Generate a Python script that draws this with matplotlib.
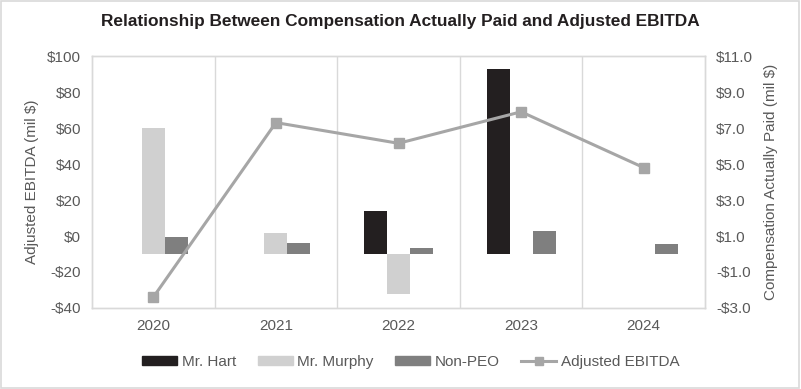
import matplotlib
matplotlib.use("Agg")
import matplotlib.pyplot as plt
import numpy as np
from matplotlib.patches import Rectangle, Patch
from matplotlib.lines import Line2D
from matplotlib.ticker import FuncFormatter

plt.rcParams['font.family'] = ['Liberation Sans', 'DejaVu Sans']

years = ['2020', '2021', '2022', '2023', '2024']
hart = [np.nan, np.nan, 2.4, 10.3, np.nan]
murphy = [7.0, 1.15, -2.2, np.nan, np.nan]
non_peo = [0.95, 0.6, 0.35, 1.3, 0.55]
ebitda = [-34, 63, 51.5, 69, 38]

c_hart = '#231f20'
c_murphy = '#d0d0d0'
c_nonpeo = '#7f7f7f'
c_line = '#a6a6a6'
txt = '#595959'

fig = plt.figure(figsize=(8.01, 3.89), dpi=100)
fig.patches.append(Rectangle((0.001, 0.002), 0.997, 0.995, transform=fig.transFigure,
                             fill=False, edgecolor='#d9d9d9', linewidth=1.2))
ax = fig.add_axes([92/801, 1-308/389, (705-92)/801, (308-56)/389])
ax2 = ax.twinx()

x = np.arange(len(years))
w = 0.188
ax.bar(x - w, hart, w, color=c_hart, zorder=2)
ax.bar(x, murphy, w, color=c_murphy, zorder=2)
ax.bar(x + w, non_peo, w, color=c_nonpeo, zorder=2)
ax.set_ylim(-3, 11)
ax.set_yticks(np.arange(-3, 11.1, 2))
ax.yaxis.set_major_formatter(FuncFormatter(lambda v, p: ('-$' if v < 0 else '$') + f'{abs(v):.1f}'))
ax.set_xlim(-0.5, 4.5)
ax.set_xticks(x)
ax.set_xticklabels(years)
for b in np.arange(0.5, 4.5, 1):
    ax.axvline(b, color='#d9d9d9', linewidth=1, zorder=1)

ax2.plot(x, ebitda, color=c_line, linewidth=2.2, marker='s', markersize=6.5, zorder=3)
ax2.set_ylim(-40, 100)
ax2.set_yticks(np.arange(-40, 101, 20))
ax2.yaxis.set_major_formatter(FuncFormatter(lambda v, p: ('-$' if v < 0 else '$') + f'{abs(v):.0f}'))

# bars' axis on the right, line's axis on the left
ax.yaxis.tick_right()
ax.yaxis.set_label_position('right')
ax2.yaxis.tick_left()
ax2.yaxis.set_label_position('left')
ax.set_ylabel('Compensation Actually Paid (mil $)', color=txt, fontsize=11, labelpad=8)
ax2.set_ylabel('Adjusted EBITDA (mil $)', color=txt, fontsize=11, labelpad=6)

for a in (ax, ax2):
    a.tick_params(length=0, labelsize=11, labelcolor=txt, pad=8)
    for s in a.spines.values():
        s.set_color('#d9d9d9')
        s.set_linewidth(1)
ax.tick_params(axis='x', pad=8)

fig.text(0.5, 0.945, 'Relationship Between Compensation Actually Paid and Adjusted EBITDA',
         ha='center', va='center', fontsize=12.4, fontweight='bold', color='#231f20')

handles = [Patch(color=c_hart, label='Mr. Hart'),
           Patch(color=c_murphy, label='Mr. Murphy'),
           Patch(color=c_nonpeo, label='Non-PEO'),
           Line2D([], [], color=c_line, linewidth=2.2, marker='s', markersize=6, label='Adjusted EBITDA')]
fig.legend(handles=handles, loc='center', bbox_to_anchor=(411/801, 1-362/389), ncol=4, frameon=False,
           fontsize=11, labelcolor=txt, handlelength=2.3, handleheight=0.5, columnspacing=1.4,
           handletextpad=0.3)

fig.savefig('out.png', dpi=100)
